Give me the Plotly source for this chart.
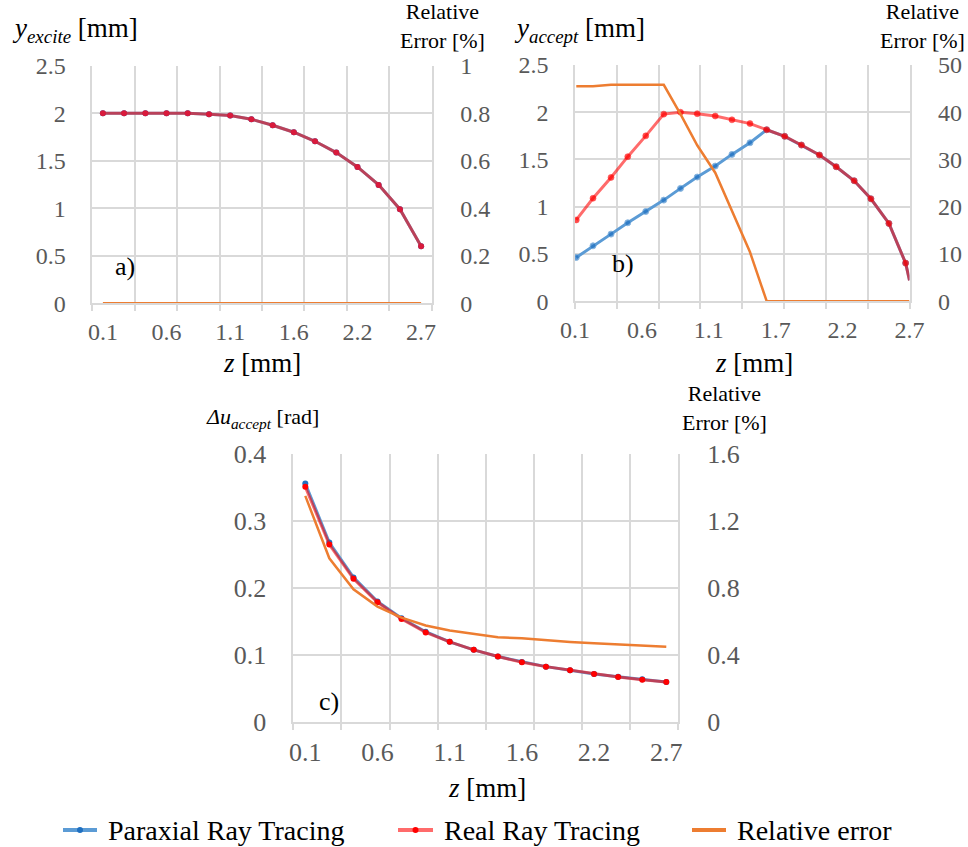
import plotly.graph_objects as go

W, H = 968, 847

# ---- data -------------------------------------------------------------
# sample planes (mm) of panels a) and c)
z_ac = [0.1, 0.273, 0.447, 0.62, 0.793, 0.967, 1.14, 1.313,
        1.487, 1.66, 1.833, 2.007, 2.18, 2.353, 2.527, 2.7]
tick_z_ac = [0.1, 0.62, 1.14, 1.66, 2.18, 2.7]
tick_text_ac = ["0.1", "0.6", "1.1", "1.6", "2.2", "2.7"]

# a) excitation height
y_excite_paraxial = [2.0, 2.0, 2.0, 2.0, 2.0, 1.99, 1.975, 1.937,
                     1.873, 1.80, 1.705, 1.586, 1.435, 1.246, 0.99, 0.60]
y_excite_real = [2.0, 2.0, 2.0, 2.0, 2.0, 1.99, 1.975, 1.937,
                 1.873, 1.80, 1.705, 1.586, 1.435, 1.246, 0.99, 0.60]
err_excite = [0, 0, 0, 0, 0, 0, 0, 0, 0, 0, 0, 0, 0, 0, 0, 0]

# b) acceptance height
z_b = [0.11, 0.24, 0.38, 0.51, 0.65, 0.79, 0.92, 1.05, 1.19, 1.32,
       1.46, 1.59, 1.73, 1.86, 2.0, 2.13, 2.27, 2.4, 2.54, 2.67, 2.7]
tick_z_b = [0.1, 0.62, 1.14, 1.66, 2.18, 2.7]
tick_text_b = ["0.1", "0.6", "1.1", "1.7", "2.2", "2.7"]
y_accept_paraxial = [0.463, 0.586, 0.71, 0.83, 0.95, 1.07, 1.194, 1.314,
                     1.43, 1.554, 1.677, 1.815, 1.745, 1.653, 1.547, 1.423,
                     1.275, 1.084, 0.823, 0.403, 0.22]
y_accept_real = [0.86, 1.09, 1.31, 1.53, 1.75, 1.98, 2.0, 1.985, 1.96,
                 1.92, 1.88, 1.815, 1.745, 1.653, 1.547, 1.423, 1.275,
                 1.084, 0.823, 0.403, 0.22]
err_accept = [45.5, 45.5, 45.8, 45.8, 45.8, 45.8, 39.6, 33.0, 27.2, 19.2,
              10.4, 0, 0, 0, 0, 0, 0, 0, 0, 0, 0]

# c) angular acceptance
du_paraxial = [0.356, 0.268, 0.216, 0.180, 0.155, 0.135, 0.120, 0.108,
               0.098, 0.090, 0.083, 0.0775, 0.072, 0.068, 0.064, 0.060]
du_real = [0.351, 0.265, 0.214, 0.179, 0.154, 0.134, 0.120, 0.108,
           0.098, 0.0895, 0.083, 0.0775, 0.072, 0.0676, 0.0636, 0.060]
err_du = [1.35, 0.978, 0.793, 0.69, 0.624, 0.577, 0.547, 0.525,
          0.507, 0.501, 0.489, 0.479, 0.471, 0.463, 0.457, 0.451]

series_names = ["Paraxial Ray Tracing", "Real Ray Tracing", "Relative error"]

# ---- styling ----------------------------------------------------------
FONT = "Liberation Serif, Times New Roman, serif"
GRID = "#D9D9D9"
TICK = "#595959"
BLUE_LINE = "#5B9BD5"
BLUE_MARK = "#1F70C1"
RED_LINE = "rgba(255,0,0,0.58)"
RED_MARK = "#FF0000"
ORANGE = "#ED7D31"


def px_x(x):
    return x / W


def px_y(y):
    return 1 - y / H


fig = go.Figure()


def add_panel(idx, x, y_par, y_real, err, red_mark=RED_MARK, sizes=None):
    xa = "x" if idx == 1 else f"x{idx}"
    ya = f"y{2 * idx - 1}" if idx > 1 else "y"
    ya2 = f"y{2 * idx}"
    msize = sizes if sizes is not None else 6
    fig.add_trace(go.Scatter(
        x=x, y=y_par, mode="lines+markers", name=series_names[0],
        line=dict(color=BLUE_LINE, width=3),
        marker=dict(color=BLUE_MARK, size=msize),
        xaxis=xa, yaxis=ya, showlegend=False))
    fig.add_trace(go.Scatter(
        x=x, y=y_real, mode="lines+markers", name=series_names[1],
        line=dict(color=RED_LINE, width=3),
        marker=dict(color=red_mark, size=msize),
        xaxis=xa, yaxis=ya, showlegend=False))
    fig.add_trace(go.Scatter(
        x=x, y=err, mode="lines", name=series_names[2],
        line=dict(color=ORANGE, width=2.5),
        xaxis=xa, yaxis=ya2, showlegend=False))


add_panel(1, z_ac, y_excite_paraxial, y_excite_real, err_excite, red_mark="#D91A3C")
add_panel(2, z_b, y_accept_paraxial, y_accept_real, err_accept,
          sizes=[6] * (len(z_b) - 1) + [0])
add_panel(3, z_ac, du_paraxial, du_real, err_du)

# ---- axes -------------------------------------------------------------
half = (z_ac[1] - z_ac[0]) / 2
range_ac = [z_ac[0] - half, z_ac[-1] + half]
grid_ac = [range_ac[0] + k * (range_ac[1] - range_ac[0]) / 8 for k in range(9)]
range_b = [0.1, 2.7]
grid_b = [range_b[0] + k * (range_b[1] - range_b[0]) / 8 for k in range(9)]

panels = {
    1: dict(xd=(92.3, 431.7), yd=(65.7, 303.3), xr=range_ac, grid=grid_ac,
            tv=tick_z_ac, tt=tick_text_ac, yr=[0, 2.5], dy=0.5, yr2=[0, 1], dy2=0.2, fs=24),
    2: dict(xd=(575, 909.5), yd=(65, 301.2), xr=range_b, grid=grid_b,
            tv=tick_z_b, tt=tick_text_b, yr=[0, 2.5], dy=0.5, yr2=[0, 50], dy2=10, fs=24),
    3: dict(xd=(293.3, 678.3), yd=(454, 722.3), xr=range_ac, grid=grid_ac,
            tv=tick_z_ac, tt=tick_text_ac, yr=[0, 0.4], dy=0.1, yr2=[0, 1.6], dy2=0.4, fs=26),
}

layout_axes = {}
for i, p in panels.items():
    xk = "xaxis" if i == 1 else f"xaxis{i}"
    yk = "yaxis" if i == 1 else f"yaxis{2 * i - 1}"
    yk2 = f"yaxis{2 * i}"
    ya_name = "y" if i == 1 else f"y{2 * i - 1}"
    xa_name = "x" if i == 1 else f"x{i}"
    tickfont = dict(family=FONT, size=p["fs"], color=TICK)
    layout_axes[xk] = dict(
        domain=[px_x(p["xd"][0]), px_x(p["xd"][1])], anchor=ya_name,
        range=p["xr"], tickmode="array", tickvals=p["tv"], ticktext=p["tt"],
        showgrid=False, zeroline=False, ticks="", tickfont=tickfont,
        ticklabelstandoff=6, showline=True, linecolor=GRID, linewidth=1.5,
        automargin=False,
        minor=dict(tickmode="array", tickvals=p["grid"], showgrid=True,
                   gridcolor=GRID, gridwidth=1.5, ticks="outside",
                   ticklen=6, tickcolor=GRID, tickwidth=1.5))
    layout_axes[yk] = dict(
        domain=[px_y(p["yd"][1]), px_y(p["yd"][0])], anchor=xa_name,
        range=p["yr"], dtick=p["dy"], tick0=0, showgrid=True, gridcolor=GRID,
        gridwidth=1.5, zeroline=False, showline=True, linecolor=GRID,
        linewidth=1.5, ticks="", tickfont=tickfont, ticklabelstandoff=20,
        automargin=False)
    layout_axes[yk2] = dict(
        overlaying=ya_name, anchor=xa_name, side="right",
        range=p["yr2"], dtick=p["dy2"], tick0=0, showgrid=False,
        zeroline=False, showline=True, linecolor=GRID, linewidth=1.5,
        ticks="", tickfont=tickfont, ticklabelstandoff=22, automargin=False)

fig.update_layout(**layout_axes)

# ---- titles, panel labels and legend ----------------------------------
ann = []
shapes = []


def text(x, y, s, size, xanchor="center", color="black"):
    ann.append(dict(x=px_x(x), y=px_y(y), xref="paper", yref="paper", text=s,
                    showarrow=False, xanchor=xanchor, yanchor="middle",
                    font=dict(family=FONT, size=size, color=color)))


text(10, 30, "<i>y</i><sub><i>excite</i></sub> [mm]", 27, xanchor="left")
text(512, 30, "<i>y</i><sub><i>accept</i></sub> [mm]", 27, xanchor="left")
text(204, 418, "<i>Δu</i><sub><i>accept</i></sub> [rad]", 22, xanchor="left")

# right-hand axis titles (two-line block)
for cx, cy in [(442, 26), (922, 26), (724, 408)]:
    text(cx, cy, "Relative<br>Error [%]", 22)

text(262, 363, "<i>z</i> [mm]", 27)
text(754, 363, "<i>z</i> [mm]", 27)
text(487, 788, "<i>z</i> [mm]", 27)

text(125, 267, "a)", 26)
text(623, 263, "b)", 26)
text(329, 701, "c)", 26)

# legend row: line swatch, optional marker dot, label
legend_items = [
    (63, 97, BLUE_LINE, BLUE_MARK, series_names[0]),
    (398, 433, RED_LINE, RED_MARK, series_names[1]),
    (692, 726, ORANGE, None, series_names[2]),
]
LEG_Y = 830
for x0, x1, lc, mc, label in legend_items:
    shapes.append(dict(type="line", xref="paper", yref="paper",
                       x0=px_x(x0), x1=px_x(x1), y0=px_y(LEG_Y), y1=px_y(LEG_Y),
                       line=dict(color=lc, width=4)))
    if mc:
        cx = (x0 + x1) / 2
        shapes.append(dict(type="circle", xref="paper", yref="paper",
                           x0=px_x(cx - 3), x1=px_x(cx + 3),
                           y0=px_y(LEG_Y + 3), y1=px_y(LEG_Y - 3),
                           fillcolor=mc, line=dict(width=0)))
    text(x1 + 9, LEG_Y, label, 28, xanchor="left")

fig.update_layout(
    width=W, height=H,
    margin=dict(l=0, r=0, t=0, b=0, autoexpand=False),
    paper_bgcolor="white", plot_bgcolor="white",
    font=dict(family=FONT),
    annotations=ann, shapes=shapes, showlegend=False,
)

fig.write_html("out.html")
